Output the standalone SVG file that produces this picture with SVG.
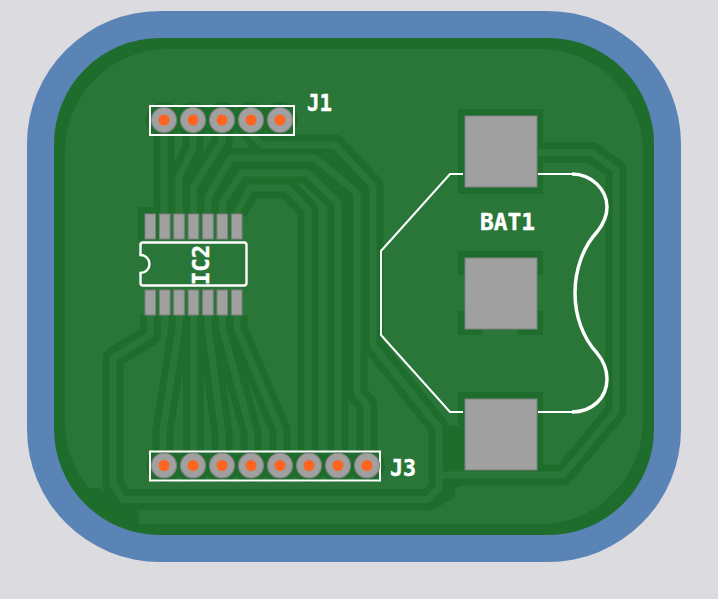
<svg xmlns="http://www.w3.org/2000/svg" width="718" height="599" viewBox="0 0 718 599">
<style>
.clr{fill:none;stroke:#1f6d2d;stroke-width:21;stroke-linejoin:round}
.trk{fill:none;stroke:#2a7639;stroke-width:7;stroke-linejoin:round}
.dk{fill:#1f6d2d}
.smd{fill:#a0a0a0;stroke:#808080;stroke-width:1}
.ring{fill:#a0a0a0;stroke:#808080;stroke-width:1.2}
.hole{fill:#ff6420}
.silk{fill:none;stroke:#ffffff;stroke-width:2}
.lbl{font-family:"DejaVu Sans Mono","Liberation Mono",monospace;font-weight:700;font-size:23px;fill:#ffffff;stroke:#ffffff;stroke-width:.4}
</style>
<defs>
<path id="t" d="M164,120V214M193,120V148L179,177V214M222,120V142L193.500,187V214M251,120V133L262,145H335L373,186V345L439,428V488L428,499.500H123L113,484V358L150.500,335V315M208,214V197L231,158H315L357,193V393L367,405V465M222.500,214V202L242,173H307L338,203V465M237,214V212L250,188H287L308,210V465M179,315V328L163,430V465M193.500,315V465M208,315V327L222,433V465M222.500,315V328L251,433V465M237,315V328L280,430V465M537,152.500H592L616,170V411L563,475H440"/>
</defs>
<rect width="718" height="599" fill="#dcdce0"/>
<rect x="27" y="11" width="654" height="551" rx="133" fill="#5a83b6"/>
<rect x="54" y="38" width="600" height="497" rx="106" fill="#1f6d2d"/>
<path fill="#2a7639" d="M168,49H540A103,103 0 0 1 643,152V421A103,103 0 0 1 540,524H139V512L100,488H89A103,103 0 0 1 65,421V152A103,103 0 0 1 168,49Z"/>
<g id="connectors">
<use href="#t" class="clr"/>
<polygon class="dk" points="445,426 460,426 460,487 455,487 455,497 430,512 430,490"/>
<rect class="dk" x="138" y="207" width="20" height="33"/>
<rect class="dk" x="458" y="109" width="85" height="85"/>
<rect class="dk" x="458" y="392" width="85" height="85"/>
<path class="dk" d="M458,251H543V275H537V311H543V335H518V329H482V335H458V311H465V275H458Z"/>
<g class="dk">
<circle cx="164" cy="120" r="18"/><circle cx="193" cy="120" r="18"/><circle cx="222" cy="120" r="18"/><circle cx="251" cy="120" r="18"/><circle cx="280" cy="120" r="18"/>
<circle cx="164" cy="465" r="18"/><circle cx="193" cy="465" r="18"/><circle cx="222" cy="465" r="18"/><circle cx="251" cy="465" r="18"/><circle cx="280" cy="465" r="18"/><circle cx="309" cy="465" r="18"/><circle cx="338" cy="465" r="18"/><circle cx="367" cy="465" r="18"/>
</g>
<use href="#t" class="trk"/>
</g>
<g id="BAT1">
<rect class="smd" x="465" y="116" width="72" height="71"/>
<rect class="smd" x="465" y="258" width="72" height="71"/>
<rect class="smd" x="465" y="399" width="72" height="71"/>
<path class="silk" d="M463,174H450L381,251V335L450,412H463M538,174H572M538,412H572"/>
<path class="silk" style="stroke-width:3.500" d="M572,174C592,174 607,190 607,207C607,218 601,227 597,232C583,247 575,270 575,293C575,316 583,338 597,353C602,359 607,367 607,379C607,398 592,412 572,412"/>
<text class="lbl" x="480" y="230" textLength="55" lengthAdjust="spacingAndGlyphs">BAT1</text>
</g>
<g id="IC2">
<g class="smd">
<rect x="145" y="214" width="10.500" height="25"/><rect x="159.500" y="214" width="10.500" height="25"/><rect x="173.800" y="214" width="10.500" height="25"/><rect x="188.200" y="214" width="10.500" height="25"/><rect x="202.700" y="214" width="10.500" height="25"/><rect x="217" y="214" width="10.500" height="25"/><rect x="231.500" y="214" width="10.500" height="25"/>
<rect x="145" y="290" width="10.500" height="25"/><rect x="159.500" y="290" width="10.500" height="25"/><rect x="173.800" y="290" width="10.500" height="25"/><rect x="188.200" y="290" width="10.500" height="25"/><rect x="202.700" y="290" width="10.500" height="25"/><rect x="217" y="290" width="10.500" height="25"/><rect x="231.500" y="290" width="10.500" height="25"/>
</g>
<path class="silk" style="stroke-width:2.400" d="M143,242.500H244Q246.500,242.500 246.500,245V283Q246.500,285.500 244,285.500H143Q140.500,285.500 140.500,283V273A9,9 0 0 0 140.500,255V245Q140.500,242.500 143,242.500Z"/>
<text class="lbl" transform="translate(209,285) rotate(-90)" textLength="40" lengthAdjust="spacingAndGlyphs">IC2</text>
</g>
<g id="J1">
<rect class="silk" x="150" y="106" width="144" height="29"/>
<circle class="ring" cx="164" cy="120" r="12.500"/><circle class="hole" cx="164" cy="120" r="5.500"/>
<circle class="ring" cx="193" cy="120" r="12.500"/><circle class="hole" cx="193" cy="120" r="5.500"/>
<circle class="ring" cx="222" cy="120" r="12.500"/><circle class="hole" cx="222" cy="120" r="5.500"/>
<circle class="ring" cx="251" cy="120" r="12.500"/><circle class="hole" cx="251" cy="120" r="5.500"/>
<circle class="ring" cx="280" cy="120" r="12.500"/><circle class="hole" cx="280" cy="120" r="5.500"/>
<text class="lbl" x="307" y="111" textLength="25" lengthAdjust="spacingAndGlyphs">J1</text>
</g>
<g id="J3">
<rect class="silk" x="150" y="451.500" width="230" height="29"/>
<circle class="ring" cx="164" cy="465.500" r="12.500"/><circle class="hole" cx="164" cy="465.500" r="5.500"/>
<circle class="ring" cx="193" cy="465.500" r="12.500"/><circle class="hole" cx="193" cy="465.500" r="5.500"/>
<circle class="ring" cx="222" cy="465.500" r="12.500"/><circle class="hole" cx="222" cy="465.500" r="5.500"/>
<circle class="ring" cx="251" cy="465.500" r="12.500"/><circle class="hole" cx="251" cy="465.500" r="5.500"/>
<circle class="ring" cx="280" cy="465.500" r="12.500"/><circle class="hole" cx="280" cy="465.500" r="5.500"/>
<circle class="ring" cx="309" cy="465.500" r="12.500"/><circle class="hole" cx="309" cy="465.500" r="5.500"/>
<circle class="ring" cx="338" cy="465.500" r="12.500"/><circle class="hole" cx="338" cy="465.500" r="5.500"/>
<circle class="ring" cx="367" cy="465.500" r="12.500"/><circle class="hole" cx="367" cy="465.500" r="5.500"/>
<text class="lbl" x="390" y="476" textLength="26" lengthAdjust="spacingAndGlyphs">J3</text>
</g>
</svg>
